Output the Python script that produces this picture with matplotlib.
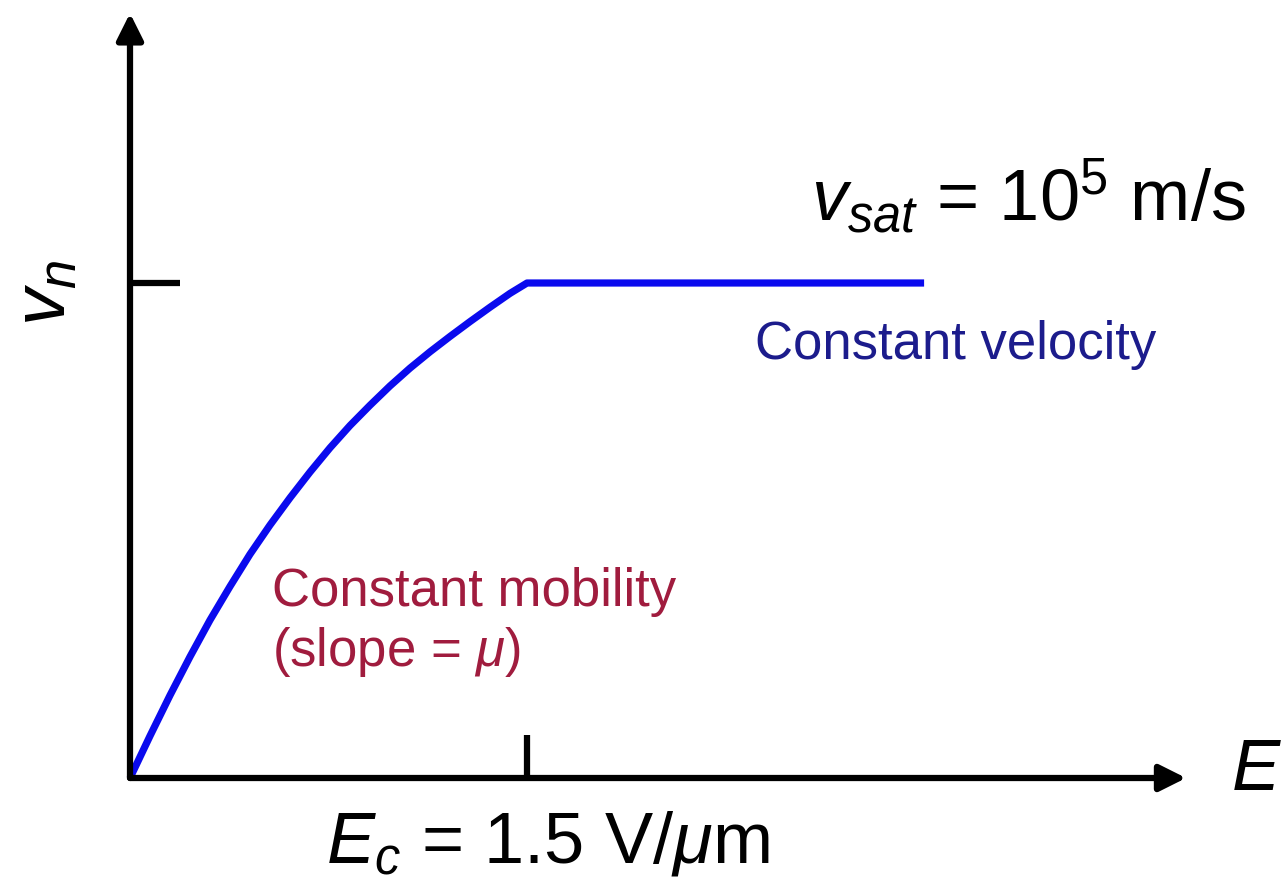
import numpy as np
import matplotlib
matplotlib.use("Agg")
import matplotlib.pyplot as plt

plt.rcParams['font.family'] = ['Liberation Sans', 'DejaVu Sans']
plt.rcParams['mathtext.fontset'] = 'custom'
plt.rcParams['mathtext.rm'] = 'Liberation Sans'
plt.rcParams['mathtext.it'] = 'Liberation Sans:italic'

# field (V/um) and drift velocity (units of 1e5 m/s)
e_field = [0.0, 0.0756, 0.1511, 0.2267, 0.3022, 0.3778, 0.4533, 0.5289,
           0.6045, 0.6800, 0.7556, 0.8311, 0.9067, 0.9822, 1.0578, 1.1334,
           1.2089, 1.2845, 1.3600, 1.4356, 1.5, 3.0]
velocity = [0.0, 0.085, 0.167, 0.245, 0.319, 0.387, 0.452, 0.511, 0.566, 0.618,
            0.667, 0.712, 0.753, 0.792, 0.828, 0.861, 0.892, 0.922, 0.951,
            0.979, 1.0, 1.0]
e_crit = 1.5
v_sat = 1.0
x_end = 3.99
y_end = 1.545

W, H = 1284, 883
X0, Y0 = 130, 778        # pixel position of the origin
SX, SY = 264.7, 495.0    # pixels per unit


def px(x, y):
    # pixel position -> data coords (for placing the labels)
    return (x - X0) / SX, (Y0 - y) / SY


fig = plt.figure(figsize=(W / 100, H / 100), dpi=100)
ax = fig.add_axes([0, 0, 1, 1])
ax.set_xlim(-X0 / SX, (W - X0) / SX)
ax.set_ylim((Y0 - H) / SY, Y0 / SY)
ax.axis('off')

# axes with arrow heads
arrow_kw = dict(arrowstyle='-|>,head_length=0.4,head_width=0.2', lw=4.5,
                color='black', mutation_scale=40, shrinkA=0, shrinkB=0)
ax.annotate('', xy=(x_end, 0), xytext=(0, 0), arrowprops=arrow_kw)
ax.annotate('', xy=(0, y_end), xytext=(0, 0), arrowprops=arrow_kw)

# tick marks at E_c and v_sat
ax.plot([e_crit, e_crit], [0, 0.087], color='black', lw=4.5, solid_capstyle='butt')
ax.plot([0, 0.19], [v_sat, v_sat], color='black', lw=4.5, solid_capstyle='butt')

# velocity curve
ax.plot(e_field, velocity, color='#0a0aee', lw=5.2, solid_capstyle='butt',
        solid_joinstyle='round')

# labels
ax.text(*px(46, 293), r'$v_n$', fontsize=54, rotation=90, ha='center', va='center')
ax.text(*px(1231, 772), r'$E$', fontsize=52, ha='left', va='center')
ax.text(*px(548, 843), r'$E_c$ = 1.5 V/$\mu$m', fontsize=52, ha='center', va='center')
ax.text(*px(1028, 196), r'$v_{sat}$ = 10$^5$ m/s', fontsize=52, ha='center', va='center')
ax.text(*px(755, 345), 'Constant velocity', fontsize=38, color='#1c1c8c',
        ha='left', va='center')
ax.text(*px(272, 623), 'Constant mobility\n(slope = $\\mu$)', fontsize=38,
        color='#a01c3e', ha='left', va='center', linespacing=1.2)

fig.savefig('out.png', dpi=100)
